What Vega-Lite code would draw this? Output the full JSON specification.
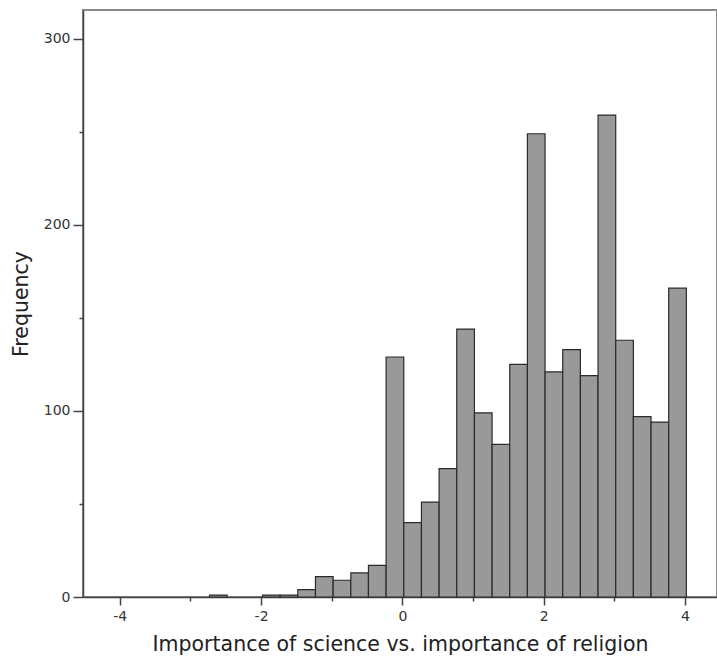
{
  "$schema": "https://vega.github.io/schema/vega-lite/v6.json",
  "autosize": "none",
  "width": 634,
  "height": 587,
  "padding": {"left": 83, "top": 10, "right": 0, "bottom": 67},
  "background": "white",
  "config": {
    "view": {"stroke": "#8a8a8a", "strokeWidth": 2},
    "font": "DejaVu Sans",
    "axis": {
      "domainColor": "#444444",
      "domainWidth": 1.5,
      "tickColor": "#444444",
      "tickWidth": 1.5,
      "labelColor": "#333333",
      "titleColor": "#222222",
      "labelFont": "DejaVu Sans",
      "titleFont": "DejaVu Sans",
      "labelFontSize": 14,
      "titleFontSize": 20.5,
      "titleFontWeight": "normal",
      "grid": false
    }
  },
  "data": {
    "values": [
      {"bin_start": -2.73, "bin_end": -2.48, "count": 1},
      {"bin_start": -1.98, "bin_end": -1.73, "count": 1},
      {"bin_start": -1.73, "bin_end": -1.48, "count": 1},
      {"bin_start": -1.48, "bin_end": -1.23, "count": 4},
      {"bin_start": -1.23, "bin_end": -0.98, "count": 11},
      {"bin_start": -0.98, "bin_end": -0.73, "count": 9},
      {"bin_start": -0.73, "bin_end": -0.48, "count": 13},
      {"bin_start": -0.48, "bin_end": -0.23, "count": 17},
      {"bin_start": -0.23, "bin_end": 0.02, "count": 129},
      {"bin_start": 0.02, "bin_end": 0.27, "count": 40},
      {"bin_start": 0.27, "bin_end": 0.52, "count": 51},
      {"bin_start": 0.52, "bin_end": 0.77, "count": 69},
      {"bin_start": 0.77, "bin_end": 1.02, "count": 144},
      {"bin_start": 1.02, "bin_end": 1.27, "count": 99},
      {"bin_start": 1.27, "bin_end": 1.52, "count": 82},
      {"bin_start": 1.52, "bin_end": 1.77, "count": 125},
      {"bin_start": 1.77, "bin_end": 2.02, "count": 249},
      {"bin_start": 2.02, "bin_end": 2.27, "count": 121},
      {"bin_start": 2.27, "bin_end": 2.52, "count": 133},
      {"bin_start": 2.52, "bin_end": 2.77, "count": 119},
      {"bin_start": 2.77, "bin_end": 3.02, "count": 259},
      {"bin_start": 3.02, "bin_end": 3.27, "count": 138},
      {"bin_start": 3.27, "bin_end": 3.52, "count": 97},
      {"bin_start": 3.52, "bin_end": 3.77, "count": 94},
      {"bin_start": 3.77, "bin_end": 4.02, "count": 166}
    ]
  },
  "mark": {"type": "bar", "orient": "vertical", "fill": "#999999", "stroke": "#2b2b2b", "strokeWidth": 1.2},
  "encoding": {
    "x": {
      "field": "bin_start",
      "type": "quantitative",
      "scale": {"domain": [-4.45, 4.383], "nice": false, "zero": false},
      "axis": {
        "title": "Importance of science vs. importance of religion",
        "values": [-4, -3, -2, -1, 0, 1, 2, 3, 4],
        "labelExpr": "datum.value % 2 === 0 ? '' + datum.value : ''",
        "tickSize": {"condition": {"test": "datum.value % 2 !== 0", "value": 4}, "value": 8},
        "labelPadding": 4,
        "titlePadding": 11,
        "labelFlush": false
      }
    },
    "x2": {"field": "bin_end"},
    "y": {
      "field": "count",
      "type": "quantitative",
      "scale": {"domain": [0, 315.5], "nice": false},
      "axis": {
        "title": "Frequency",
        "values": [0, 50, 100, 150, 200, 250, 300],
        "labelExpr": "datum.value % 100 === 0 ? '' + datum.value : ''",
        "tickSize": {"condition": {"test": "datum.value % 100 !== 0", "value": 4}, "value": 10},
        "labelPadding": 3,
        "titlePadding": 12,
        "labelFlush": false
      }
    },
    "y2": {"datum": 0}
  }
}
